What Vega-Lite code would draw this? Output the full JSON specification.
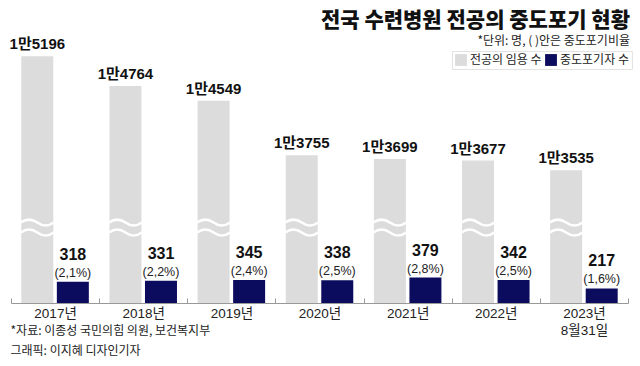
{
  "$schema": "https://vega.github.io/schema/vega-lite/v6.json",
  "width": 617,
  "height": 269,
  "autosize": {"type": "none"},
  "padding": {"left": 11, "top": 34, "right": 12, "bottom": 63},
  "background": "white",
  "config": {"view": {"stroke": null}, "font": "Liberation Sans, Noto Sans CJK KR"},
  "title": {
    "text": "전국 수련병원 전공의 중도포기 현황",
    "subtitle": "*단위: 명, ( )안은 중도포기비율",
    "anchor": "end",
    "frame": "group",
    "dx": 2,
    "font": "Noto Sans CJK KR",
    "fontSize": 21,
    "fontWeight": 900,
    "color": "#111111",
    "subtitleFont": "Noto Sans CJK KR",
    "subtitleFontSize": 12,
    "subtitleColor": "#222222",
    "subtitlePadding": 5,
    "offset": -13
  },
  "data": {
    "values": [
      {"year": "2017년", "전공의 임용 수": 15196, "중도포기자 수": 318, "big": "1만5196", "rate": "(2,1%)"},
      {"year": "2018년", "전공의 임용 수": 14764, "중도포기자 수": 331, "big": "1만4764", "rate": "(2,2%)"},
      {"year": "2019년", "전공의 임용 수": 14549, "중도포기자 수": 345, "big": "1만4549", "rate": "(2,4%)"},
      {"year": "2020년", "전공의 임용 수": 13755, "중도포기자 수": 338, "big": "1만3755", "rate": "(2,5%)"},
      {"year": "2021년", "전공의 임용 수": 13699, "중도포기자 수": 379, "big": "1만3699", "rate": "(2,8%)"},
      {"year": "2022년", "전공의 임용 수": 13677, "중도포기자 수": 342, "big": "1만3677", "rate": "(2,5%)"},
      {"year": "2023년 8월31일", "전공의 임용 수": 13535, "중도포기자 수": 217, "big": "1만3535", "rate": "(1,6%)"}
    ]
  },
  "transform": [{"fold": ["전공의 임용 수", "중도포기자 수"], "as": ["series", "value"]}],
  "encoding": {
    "x": {
      "field": "year",
      "type": "nominal",
      "sort": null,
      "scale": {"paddingInner": 0, "paddingOuter": 0},
      "axis": {
        "title": ["*자료: 이종성 국민의힘 의원, 보건복지부", "그래픽: 이지혜 디자인기자"],
        "titleAnchor": "start",
        "titleAlign": "left",
        "titleX": -1,
        "titleY": 22,
        "titleBaseline": "top",
        "titleFont": "Noto Sans CJK KR",
        "titleFontSize": 12,
        "titleFontWeight": "normal",
        "titleColor": "#222222",
        "titleLineHeight": 20,
        "labelAngle": 0,
        "labelFont": "Liberation Sans, Noto Sans CJK KR",
        "labelFontSize": 13.5,
        "labelColor": "#222222",
        "labelPadding": 8,
        "labelLineHeight": 17,
        "labelBaseline": "top",
        "labelExpr": "split(datum.label, ' ')",
        "tickBand": "extent",
        "tickSize": -5,
        "tickColor": "#999999",
        "domainColor": "#999999",
        "zindex": 1
      }
    },
    "xOffset": {
      "field": "series",
      "type": "nominal",
      "sort": ["전공의 임용 수", "중도포기자 수"],
      "scale": {"paddingInner": 0.1, "paddingOuter": 0.29}
    },
    "color": {
      "field": "series",
      "type": "nominal",
      "scale": {"domain": ["전공의 임용 수", "중도포기자 수"], "range": ["#dcdcdc", "#0c0c5e"]},
      "legend": {
        "orient": "none",
        "legendX": 441,
        "legendY": 17,
        "direction": "horizontal",
        "title": null,
        "symbolType": "square",
        "symbolSize": 140,
        "symbolStrokeWidth": 0,
        "labelFont": "Noto Sans CJK KR",
        "labelFontSize": 12,
        "labelColor": "#222222",
        "strokeColor": "#e3e3e3",
        "padding": 3,
        "columnPadding": 3,
        "labelOffset": 3
      }
    }
  },
  "layer": [
    {
      "transform": [{"filter": "datum.series == '전공의 임용 수'"}],
      "mark": {"type": "bar"},
      "encoding": {
        "y": {"field": "value", "type": "quantitative", "scale": {"domain": [11600, 15521], "nice": false, "zero": false, "clamp": true}, "axis": null}
      }
    },
    {
      "transform": [{"filter": "datum.series == '중도포기자 수'"}],
      "mark": {"type": "bar"},
      "encoding": {
        "y": {"field": "value", "type": "quantitative", "scale": {"domain": [0, 4015], "nice": false}, "axis": null}
      }
    },
    {
      "transform": [{"filter": "datum.series == '전공의 임용 수'"}],
      "mark": {"type": "point", "shape": "M-1,-0.3 Q-0.5,-0.66 0,-0.3 Q0.5,0.06 1,-0.3 M-1,0.3 Q-0.5,-0.06 0,0.3 Q0.5,0.66 1,0.3", "size": 1089, "filled": false, "stroke": "white", "strokeWidth": 2.5, "opacity": 1},
      "encoding": {
        "y": {"datum": 12700, "type": "quantitative", "scale": {"domain": [11600, 15521], "nice": false, "zero": false, "clamp": true}, "axis": null},
        "color": {"value": "white"}
      }
    },
    {
      "transform": [{"filter": "datum.series == '전공의 임용 수'"}],
      "mark": {"type": "text", "baseline": "bottom", "dy": -4, "font": "Liberation Sans Narrow, Liberation Sans, Noto Sans CJK KR", "fontSize": 15, "fontWeight": "bold", "color": "#111111"},
      "encoding": {
        "y": {"field": "value", "type": "quantitative", "scale": {"domain": [11600, 15521], "nice": false, "zero": false, "clamp": true}, "axis": null},
        "text": {"field": "big", "type": "nominal"},
        "color": {"value": "#111111"}
      }
    },
    {
      "transform": [{"filter": "datum.series == '중도포기자 수'"}],
      "mark": {"type": "text", "baseline": "bottom", "dy": -19, "font": "Liberation Sans Narrow, Liberation Sans", "fontSize": 16, "fontWeight": "bold", "color": "#111111"},
      "encoding": {
        "y": {"field": "value", "type": "quantitative", "scale": {"domain": [0, 4015], "nice": false}, "axis": null},
        "text": {"field": "value", "type": "nominal"},
        "color": {"value": "#111111"}
      }
    },
    {
      "transform": [{"filter": "datum.series == '중도포기자 수'"}],
      "mark": {"type": "text", "baseline": "bottom", "dy": -2, "font": "Liberation Sans", "fontSize": 12.5, "color": "#222222"},
      "encoding": {
        "y": {"field": "value", "type": "quantitative", "scale": {"domain": [0, 4015], "nice": false}, "axis": null},
        "text": {"field": "rate", "type": "nominal"},
        "color": {"value": "#222222"}
      }
    }
  ],
  "resolve": {"scale": {"y": "independent"}}
}
